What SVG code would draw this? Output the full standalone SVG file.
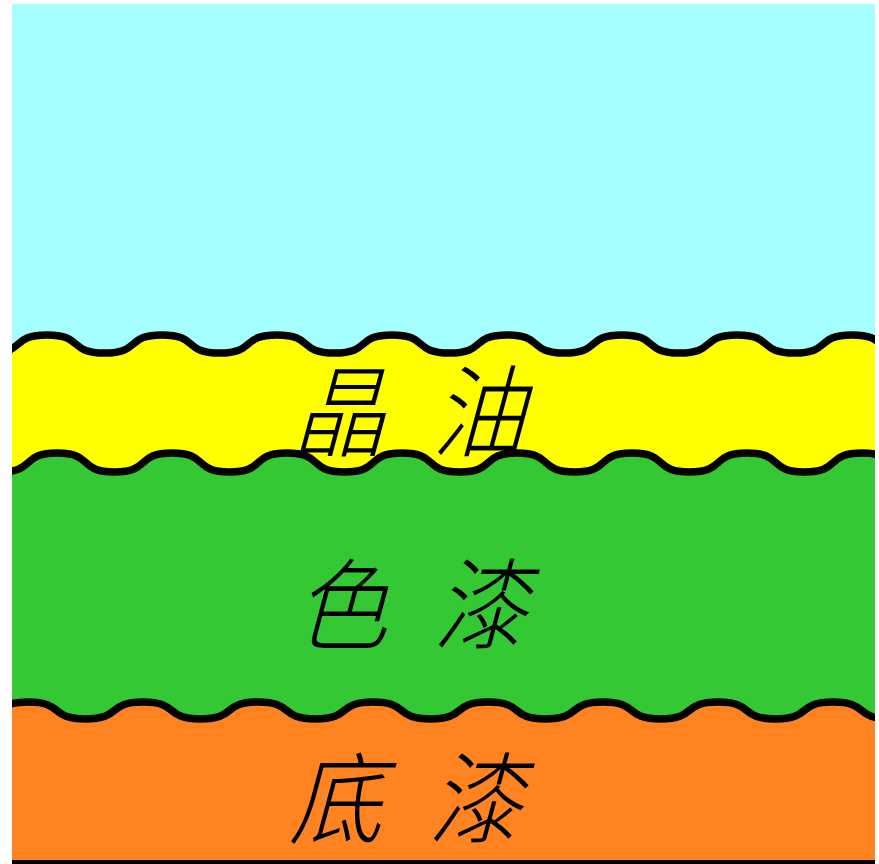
<svg xmlns="http://www.w3.org/2000/svg" width="879" height="864" viewBox="0 0 879 864">
<style>
.band{stroke:#000;stroke-width:7.5;stroke-linejoin:round}
.lbl{font-family:"Noto Sans CJK SC","Noto Sans CJK JP",sans-serif;font-size:100px;font-weight:300;fill:#000;word-spacing:28px}
</style>
<defs>
<clipPath id="frame"><rect x="12" y="4" width="863" height="856"/></clipPath>
</defs>
<rect x="0" y="0" width="879" height="864" fill="#fff"/>
<g id="layers" clip-path="url(#frame)">
<rect id="sky" x="12" y="4" width="863" height="856" fill="#A6FFFF"/>
<path id="yellow-layer" class="band" fill="#FFFF00" d="M -68 335 c 37 0 20.5 18 57.5 18 s 20.5 -18 57.5 -18 s 20.5 18 57.5 18 s 20.5 -18 57.5 -18 s 20.5 18 57.5 18 s 20.5 -18 57.5 -18 s 20.5 18 57.5 18 s 20.5 -18 57.5 -18 s 20.5 18 57.5 18 s 20.5 -18 57.5 -18 s 20.5 18 57.5 18 s 20.5 -18 57.5 -18 s 20.5 18 57.5 18 s 20.5 -18 57.5 -18 s 20.5 18 57.5 18 s 20.5 -18 57.5 -18 s 20.5 18 57.5 18 s 20.5 -18 57.5 -18 L 967 880 L -68 880 Z"/>
<path id="green-layer" class="band" fill="#34C834" d="M -58 453 c 37 0 20.5 19 57.5 19 s 20.5 -19 57.5 -19 s 20.5 19 57.5 19 s 20.5 -19 57.5 -19 s 20.5 19 57.5 19 s 20.5 -19 57.5 -19 s 20.5 19 57.5 19 s 20.5 -19 57.5 -19 s 20.5 19 57.5 19 s 20.5 -19 57.5 -19 s 20.5 19 57.5 19 s 20.5 -19 57.5 -19 s 20.5 19 57.5 19 s 20.5 -19 57.5 -19 s 20.5 19 57.5 19 s 20.5 -19 57.5 -19 s 20.5 19 57.5 19 s 20.5 -19 57.5 -19 L 977 880 L -58 880 Z"/>
<path id="orange-layer" class="band" fill="#FF8320" d="M -87 702 c 37 0 20.5 17 57.5 17 s 20.5 -17 57.5 -17 s 20.5 17 57.5 17 s 20.5 -17 57.5 -17 s 20.5 17 57.5 17 s 20.5 -17 57.5 -17 s 20.5 17 57.5 17 s 20.5 -17 57.5 -17 s 20.5 17 57.5 17 s 20.5 -17 57.5 -17 s 20.5 17 57.5 17 s 20.5 -17 57.5 -17 s 20.5 17 57.5 17 s 20.5 -17 57.5 -17 s 20.5 17 57.5 17 s 20.5 -17 57.5 -17 s 20.5 17 57.5 17 s 20.5 -17 57.5 -17 L 948 880 L -87 880 Z"/>
</g>
<rect id="base-line" x="12" y="860" width="863" height="4" fill="#000"/>
<g id="label-top"><text class="lbl" transform="translate(292,449) skewX(-15) scale(0.93,1)">晶 油</text></g>
<g id="label-mid"><text class="lbl" transform="translate(294,642) skewX(-15) scale(0.93,1)">色 漆</text></g>
<g id="label-bottom"><text class="lbl" transform="translate(289,836) skewX(-15) scale(0.93,1)">底 漆</text></g>
</svg>
